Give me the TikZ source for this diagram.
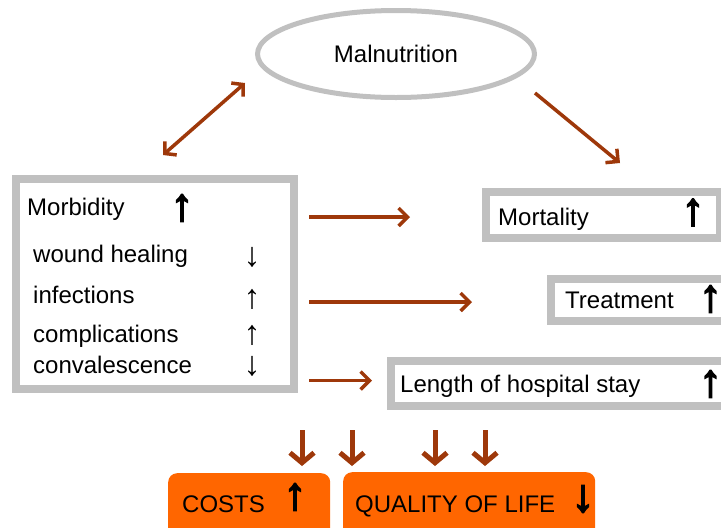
\documentclass[tikz,border=0pt]{standalone}
\usepackage{fontspec}
\setmainfont{Liberation Sans}
\newfontfamily\heavyarrows[FakeBold=3.5]{Liberation Sans}
\usetikzlibrary{positioning,calc,arrows.meta,shapes.geometric}
\definecolor{framegray}{RGB}{192,192,192}
\definecolor{arrowbrown}{RGB}{158,56,10}
\definecolor{boxorange}{RGB}{255,102,0}
\tikzset{
  frame/.style={draw=framegray,line width=8pt,fill=white,inner sep=0pt},
  lbl/.style={inner sep=0pt,anchor=base west,font=\fontsize{24}{28}\selectfont},
  updown/.style={inner sep=0pt,font=\fontsize{34}{40}\selectfont},
  bigarrow/.style={inner sep=0pt,font=\fontsize{46}{52}\heavyarrows},
  brarrow/.style={draw=arrowbrown,line width=3.5pt,-{Straight Barb[length=9pt,width=18pt]}},
  twoway/.style={draw=arrowbrown,line width=3.5pt,{Straight Barb[length=8pt,width=18pt]}-{Straight Barb[length=8pt,width=18pt]}},
  downarrow/.style={draw=arrowbrown,line width=5pt,-{Straight Barb[length=10pt,width=24pt]}},
  orangebox/.style={fill=boxorange,rounded corners=9pt,inner sep=0pt,anchor=north west}
}
\begin{document}
\begin{tikzpicture}[x=1pt,y=-1pt]
  \useasboundingbox (0,0) rectangle (721,528);
  \clip (0,0) rectangle (721,528);

  % malnutrition
  \node[ellipse,draw=framegray,line width=5pt,minimum width=277pt,minimum height=87pt,
        inner sep=0pt,font=\fontsize{24}{28}\selectfont] (maln) at (396,54) {Malnutrition};
  \coordinate (dl) at (163,155);
  \coordinate (du) at (245,83);
  \coordinate (rs) at (535,93);
  \coordinate (re) at (620,163);
  \draw[twoway] (dl) -- (du);
  \draw[brarrow] (rs) -- (re);

  % morbidity box
  \node[frame,minimum width=278pt,minimum height=210pt] (morb) at (155,284) {};
  \node[lbl] (morbtxt) at (27,215) {Morbidity};
  \node[bigarrow] (morbup) at (182,208) {↑};
  \node[lbl] (heal) at (33,262) {wound healing};
  \node[lbl] (infec) at (33,303) {infections};
  \node[lbl] (compl) at (33,342) {complications};
  \node[lbl] (conv) at (33,373) {convalescence};
  \node[updown] (healdn) at (252,257) {↓};
  \node[updown] (infecup) at (252,299) {↑};
  \node[updown] (complup) at (252,335) {↑};
  \node[updown] (convdn) at (252,366) {↓};

  % right-hand boxes
  \node[frame,minimum width=234pt,minimum height=46pt] (mort) at (603,215) {};
  \node[lbl] (morttxt) at (498,225) {Mortality};
  \node[bigarrow] (mortup) at (693,212.5) {↑};
  \node[frame,minimum width=189pt,minimum height=42pt] (treat) at (645.5,300) {};
  \node[lbl] (treattxt) at (565,308) {Treatment};
  \node[bigarrow] (treatup) at (710.5,299) {↑};
  \node[frame,minimum width=349pt,minimum height=45pt] (stay) at (565.5,383.5) {};
  \node[lbl] (staytxt) at (400,392) {Length of hospital stay};
  \node[bigarrow] (stayup) at (710.5,384) {↑};

  \draw[brarrow,shorten <=11pt,shorten >=72pt] ([yshift=-2pt]morb.east |- mort.west) -- ([yshift=-2pt]mort.west);
  \draw[brarrow,shorten <=11pt,shorten >=75pt] ([yshift=-2pt]morb.east |- treat.west) -- ([yshift=-2pt]treat.west);
  \draw[brarrow,shorten <=11pt,shorten >=15pt] ([yshift=3pt]morb.east |- stay.west) -- ([yshift=3pt]stay.west);

  % down arrows
  \foreach \x [count=\i] in {302,352,435,485} {
    \coordinate (t\i) at (\x,430);
    \coordinate (b\i) at (\x,466);
    \draw[downarrow] (t\i) -- (b\i);
  }

  % outcome boxes
  \node[orangebox,minimum width=162pt,minimum height=70pt] (costs) at (168,473) {};
  \node[lbl] (coststxt) at (182,512) {COSTS};
  \node[bigarrow] (costsup) at (295,497) {↑};
  \node[orangebox,minimum width=252pt,minimum height=70pt] (qol) at (343,472) {};
  \node[lbl] (qoltxt) at (355,512) {QUALITY OF LIFE};
  \node[bigarrow] (qoldn) at (583,499) {↓};
\end{tikzpicture}
\end{document}
